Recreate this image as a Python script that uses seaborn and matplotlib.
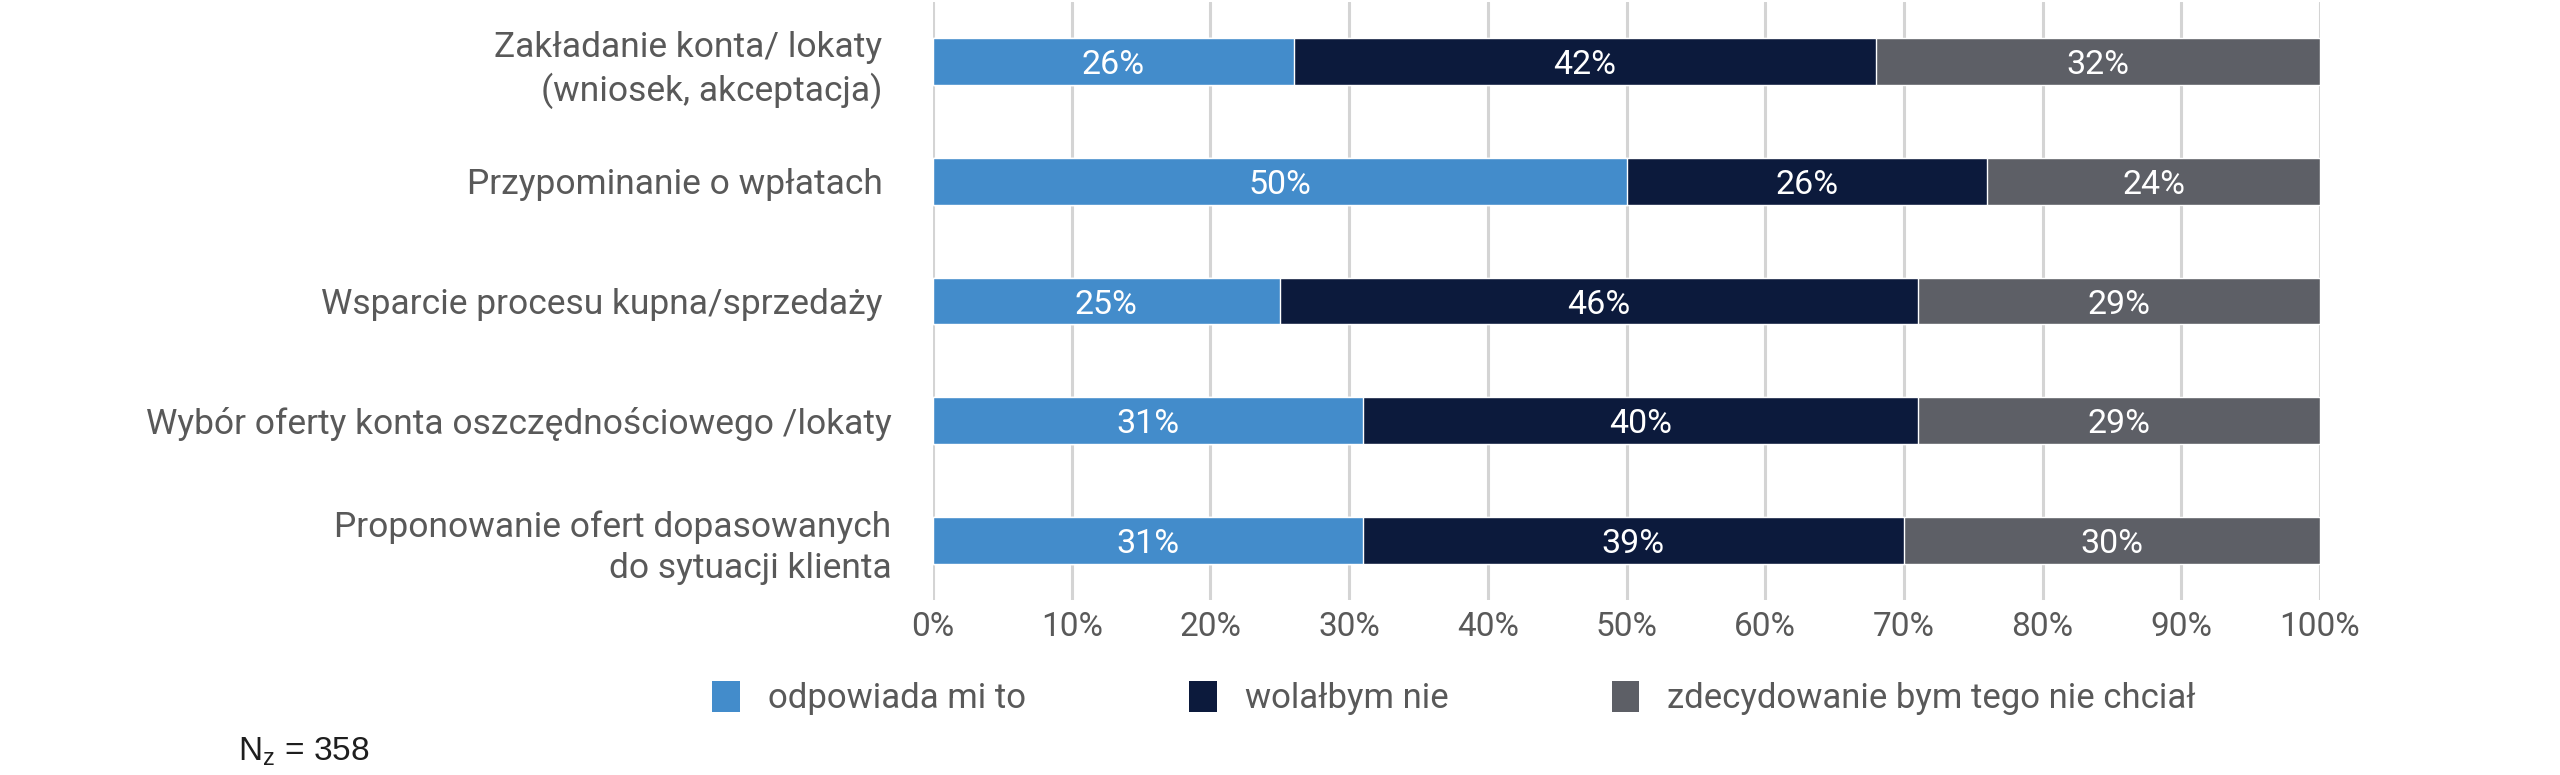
import numpy as np
import pandas as pd
import matplotlib.pyplot as plt
import seaborn as sns
from matplotlib.patches import Patch

# data
categories = [
    "Zakładanie konta/ lokaty \n(wniosek, akceptacja) ",
    "Przypominanie o wpłatach ",
    "Wsparcie procesu kupna/sprzedaży ",
    "Wybór oferty konta oszczędnościowego /lokaty",
    "Proponowanie ofert dopasowanych\ndo sytuacji klienta",
]
odpowiada = [26, 50, 25, 31, 31]
wolalbym = [42, 26, 46, 40, 39]
zdecydowanie = [32, 24, 29, 29, 30]
series_names = ["odpowiada mi to", "wolałbym nie", "zdecydowanie bym tego nie chciał"]
colors = ["#438ccb", "#0c1a3c", "#5d5f66"]
xticks = [0, 10, 20, 30, 40, 50, 60, 70, 80, 90, 100]

df = pd.DataFrame({"kategoria": categories, "a": odpowiada, "b": wolalbym, "c": zdecydowanie})
df["cum1"] = df.a
df["cum2"] = df.a + df.b
df["cum3"] = df.cum2 + df.c

sns.set_style("white")
plt.rcParams["font.family"] = ["Roboto", "DejaVu Sans"]
text_col = "#595959"

fig = plt.figure(figsize=(25.6, 7.75), dpi=100)
ax = fig.add_axes([933 / 2560, 1 - 600 / 775, (2320 - 933) / 2560, 598 / 775])

# stacked bars: draw the running totals from the back to the front
for col, color in zip(["cum3", "cum2", "cum1"], colors[::-1]):
    sns.barplot(data=df, x=col, y="kategoria", color=color, width=0.39,
                saturation=1, orient="h", ax=ax, zorder=3)

for i, row in df.iterrows():
    start = 0
    for val in [row.a, row.b, row.c]:
        ax.text(start + val / 2, i, f"{val}%", ha="center", va="center_baseline",
                color="white", fontsize=24.5, zorder=4)
        start += val

ax.set_xlim(0, 100)
ax.set_ylim(4.5, -0.5)
ax.set_xticks(xticks)
ax.set_xticklabels([f"{t}%" for t in xticks])
ax.set_xlabel("")
ax.set_ylabel("")
ax.grid(axis="x", color="#d4d4d4", linewidth=2.2, zorder=0)
ax.grid(axis="y", visible=False)
sns.despine(ax=ax, left=True, bottom=True)
ax.tick_params(axis="x", length=0, pad=8, labelsize=24, labelcolor=text_col)
ax.tick_params(axis="y", length=0, pad=30, labelsize=25.5, labelcolor=text_col)
for lbl in ax.get_yticklabels():
    lbl.set_linespacing(1.3)

handles = [Patch(facecolor=c, edgecolor="none") for c in colors]
fig.legend(handles, series_names, loc="center", bbox_to_anchor=(0.568, 1 - 698 / 775),
           ncol=3, frameon=False, fontsize=25, labelcolor=text_col,
           handlelength=0.8, handleheight=1.0, handletextpad=0.8, columnspacing=4.7)

fig.text(238 / 2560, 1 - 752 / 775, r"$\mathregular{N_z}$ = 358", fontsize=24,
         color="#1e1e1e", family=["Liberation Sans", "DejaVu Sans"], va="center")

fig.savefig("out.png", dpi=100)
